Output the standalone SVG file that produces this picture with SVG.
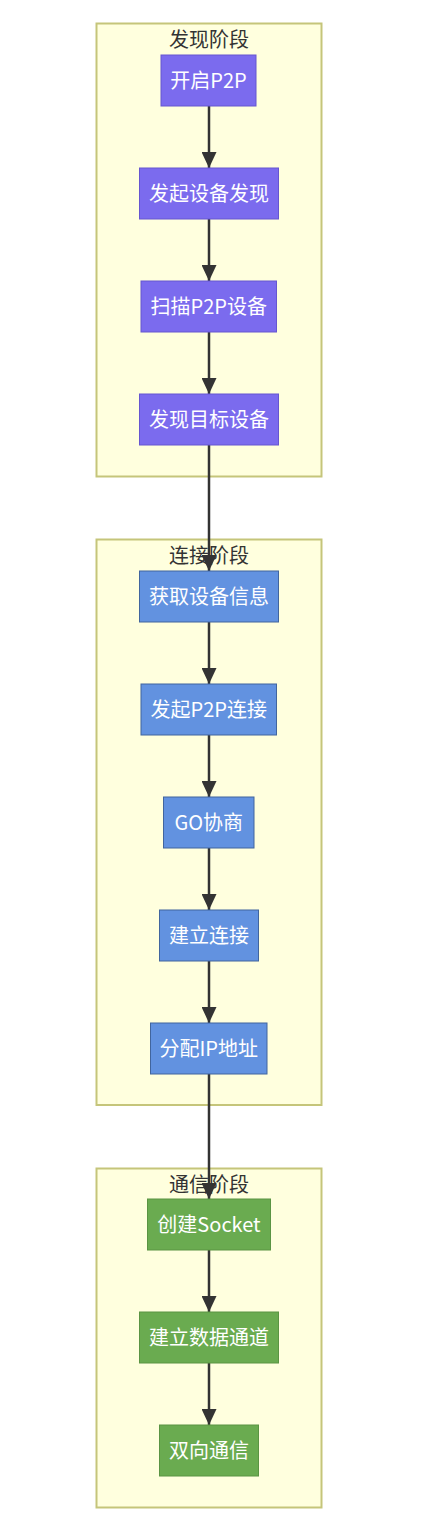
<svg xmlns="http://www.w3.org/2000/svg" width="428" height="1518" viewBox="0 0 428 1518">
<style>
.cluster rect{fill:#ffffde;stroke:#c5c57a;stroke-width:2}
.ctitle{font-family:"Noto Sans CJK SC","Noto Sans",sans-serif;font-size:20px;fill:#333;text-anchor:middle}
.node text{font-family:"Noto Sans CJK SC","Noto Sans",sans-serif;font-size:20px;fill:#ffffff;text-anchor:middle}
.p rect{fill:#7b6bee;stroke:#6656d0;stroke-width:1}
.b rect{fill:#6292e0;stroke:#41659e;stroke-width:1}
.g rect{fill:#6aab50;stroke:#5a9443;stroke-width:1}
.edges line{stroke:#333;stroke-width:2.5;marker-end:url(#arr)}
</style>
<defs>
<marker id="arr" markerUnits="userSpaceOnUse" markerWidth="16" markerHeight="15" refX="16" refY="7.5" orient="auto">
<path d="M0,0 L16,7.5 L0,15 z" fill="#333"/>
</marker>
</defs>
<rect width="428" height="1518" fill="#ffffff"/>
<g id="cluster-discovery" class="cluster">
<rect x="96.5" y="23.5" width="225" height="453"/>
<text class="ctitle" x="209" y="47">发现阶段</text>
</g>
<g id="cluster-connect" class="cluster">
<rect x="96.5" y="539.5" width="225" height="565.5"/>
<text class="ctitle" x="209" y="563">连接阶段</text>
</g>
<g id="cluster-comm" class="cluster">
<rect x="96.5" y="1168.5" width="225" height="339"/>
<text class="ctitle" x="209" y="1192">通信阶段</text>
</g>
<g id="edges" class="edges">
<line x1="209" y1="106" x2="209" y2="168"/>
<line x1="209" y1="219" x2="209" y2="281"/>
<line x1="209" y1="332" x2="209" y2="394"/>
<line x1="209" y1="445" x2="209" y2="571"/>
<line x1="209" y1="622" x2="209" y2="684"/>
<line x1="209" y1="735" x2="209" y2="797"/>
<line x1="209" y1="848" x2="209" y2="910"/>
<line x1="209" y1="961" x2="209" y2="1023"/>
<line x1="209" y1="1074" x2="209" y2="1199"/>
<line x1="209" y1="1250" x2="209" y2="1312"/>
<line x1="209" y1="1363" x2="209" y2="1425"/>
</g>
<g id="n1" class="node p"><rect x="161" y="55" width="95" height="51"/><text x="208.5" y="87.5">开启P2P</text></g>
<g id="n2" class="node p"><rect x="139.5" y="168" width="139" height="51"/><text x="209" y="200.5">发起设备发现</text></g>
<g id="n3" class="node p"><rect x="141" y="281" width="135.5" height="51"/><text x="208.75" y="313.5">扫描P2P设备</text></g>
<g id="n4" class="node p"><rect x="139.5" y="394" width="139" height="51"/><text x="209" y="426.5">发现目标设备</text></g>
<g id="n5" class="node b"><rect x="139.5" y="571" width="139" height="51"/><text x="209" y="603.5">获取设备信息</text></g>
<g id="n6" class="node b"><rect x="141" y="684" width="135.5" height="51"/><text x="208.75" y="716.5">发起P2P连接</text></g>
<g id="n7" class="node b"><rect x="163.5" y="797" width="90.5" height="51"/><text x="208.75" y="829.5">GO协商</text></g>
<g id="n8" class="node b"><rect x="159.5" y="910" width="99" height="51"/><text x="209" y="942.5">建立连接</text></g>
<g id="n9" class="node b"><rect x="150.5" y="1023" width="116.5" height="51"/><text x="208.75" y="1055.5">分配IP地址</text></g>
<g id="n10" class="node g"><rect x="147.5" y="1199" width="123" height="51"/><text x="209" y="1231.5">创建Socket</text></g>
<g id="n11" class="node g"><rect x="139.5" y="1312" width="139" height="51"/><text x="209" y="1344.5">建立数据通道</text></g>
<g id="n12" class="node g"><rect x="159.5" y="1425" width="99" height="51"/><text x="209" y="1457.5">双向通信</text></g>
</svg>
